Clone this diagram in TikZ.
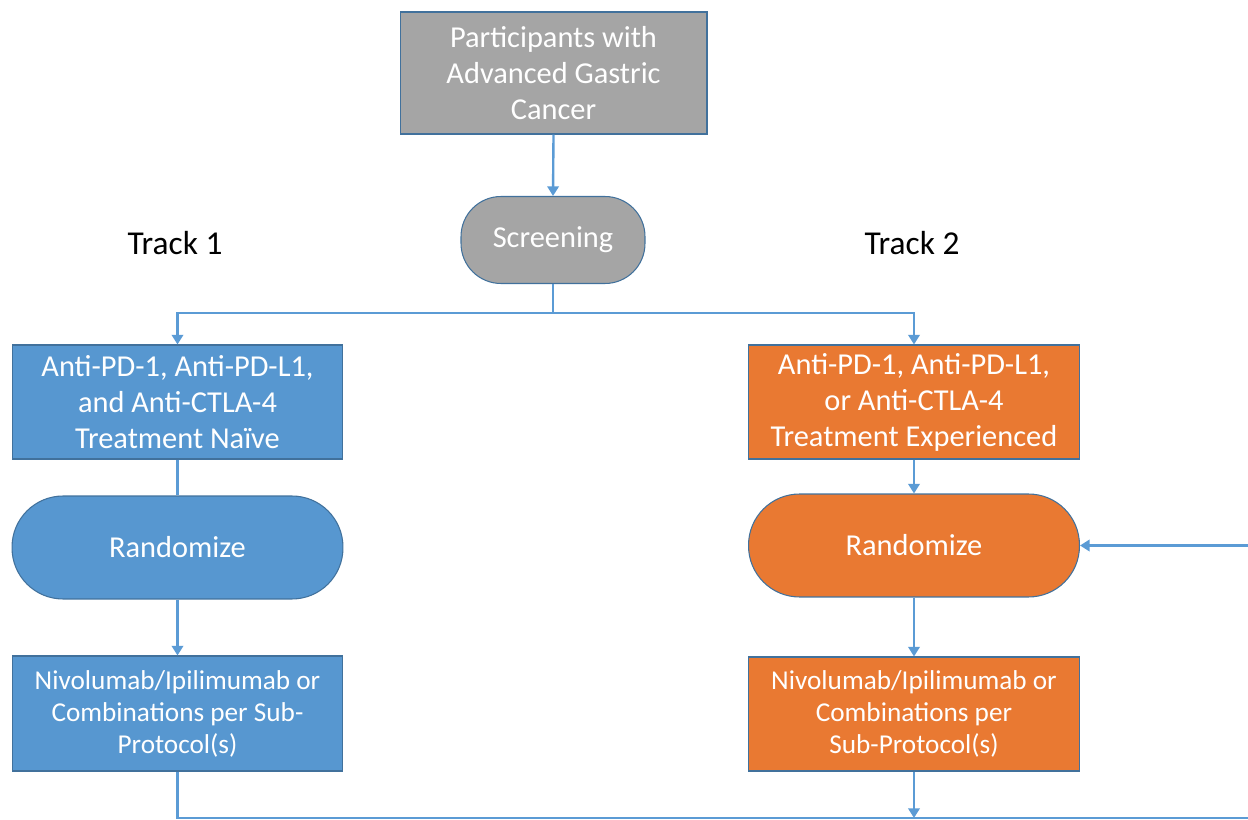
\documentclass[tikz,border=0pt]{standalone}
\usepackage{fontspec}
\setmainfont{Carlito}
\usetikzlibrary{arrows.meta}

\definecolor{linkblue}{RGB}{91,155,213}
\definecolor{edgeblue}{RGB}{65,113,156}
\definecolor{boxgrey}{RGB}{165,165,165}
\definecolor{boxblue}{RGB}{87,151,208}
\definecolor{boxorange}{RGB}{233,121,50}

\tikzset{
  base/.style={draw=edgeblue, line width=0.6pt, text=white, align=center,
    inner sep=0pt, font=\fontsize{17.3}{20.5}\selectfont},
  greybox/.style={base, fill=boxgrey},
  bluebox/.style={base, fill=boxblue},
  orangebox/.style={base, fill=boxorange},
  wide/.style={minimum width=6.62cm},
  pill/.style={rounded corners=1.02cm, minimum height=2.06cm},
  tracklabel/.style={text=black, font=\fontsize{19}{22}\selectfont},
  armtext/.style={font=\fontsize{15.5}{18.2}\selectfont},
  link/.style={draw=linkblue, line width=1.35pt},
  arr/.style={link, -{Triangle[length=5.5pt,width=6.5pt]}},
}

\begin{document}
\begin{tikzpicture}[x=0.02cm, y=-0.02cm]
  \useasboundingbox (0,0) rectangle (1248,820);
  \clip (0,0) rectangle (1248,820);

  % entry and screening
  \node[greybox, minimum width=6.14cm, minimum height=2.44cm] (part) at (553.5,73)
    {Participants with\\Advanced Gastric\\Cancer};
  \node[greybox, minimum width=3.68cm, minimum height=1.74cm, rounded corners=0.8cm] (scr) at (553,240)
    {Screening};

  % track headings
  \node[tracklabel] (tr1) at (175,243) {Track 1};
  \node[tracklabel] (tr2) at (912,243) {Track 2};

  % track 1
  \node[bluebox, wide, minimum height=2.28cm] (naive) at (177.5,402)
    {Anti-PD-1, Anti-PD-L1,\\and Anti-CTLA-4\\Treatment Na\"ive};
  \node[bluebox, wide, pill] (randL) at (177.5,547.5) {Randomize};
  \node[bluebox, wide, minimum height=2.3cm, armtext] (armL) at (177.5,713.5)
    {Nivolumab/Ipilimumab or\\Combinations per Sub-\\Protocol(s)};

  % track 2
  \node[orangebox, wide, minimum height=2.28cm] (exp) at (914,402)
    {Anti-PD-1, Anti-PD-L1,\\or Anti-CTLA-4\\Treatment Experienced};
  \node[orangebox, wide, pill] (randR) at (914,545.5) {Randomize};
  \node[orangebox, wide, minimum height=2.28cm, armtext] (armR) at (914,714)
    {Nivolumab/Ipilimumab or\\Combinations per\\Sub-Protocol(s)};

  % connectors
  \coordinate (split) at (553,313);
  \coordinate (loopR) at (1270,818);
  \draw[arr] (part.south) -- (scr.north);
  \draw[link] (scr.south) -- (split);
  \draw[arr] (split) -| (naive.north);
  \draw[arr] (split) -| (exp.north);

  \draw[link] (naive.south) -- (randL.north);
  \draw[arr] (randL.south) -- (armL.north);
  \draw[arr] (exp.south) -- (randR.north);
  \draw[arr] (randR.south) -- (armR.north);

  \draw[arr] (armL.south) |- (loopR) |- (randR.east);
  \draw[arr] (armR.south) -- (armR.south |- loopR);
\end{tikzpicture}
\end{document}
